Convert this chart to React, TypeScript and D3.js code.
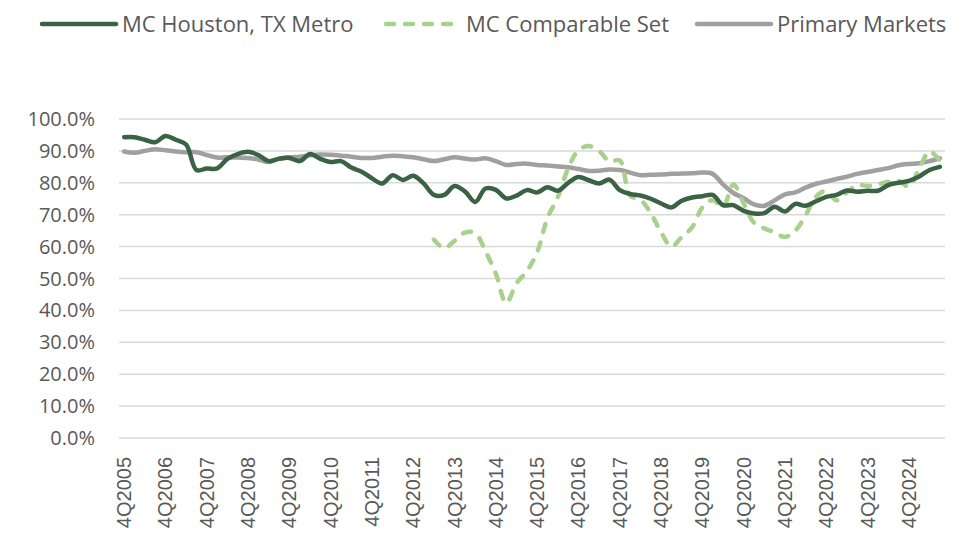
import * as d3 from "d3";

const width = 977;
const height = 537;
const margin = { top: 119, right: 32, bottom: 99, left: 119 };

// quarters from 4Q2005 through 3Q2025
const quarters: string[] = [];
for (let y = 2005; y <= 2025; y++) {
  for (let q = 1; q <= 4; q++) {
    if ((y === 2005 && q < 4) || (y === 2025 && q > 3)) continue;
    quarters.push(`${q}Q${y}`);
  }
}

const houston = [
  94.3, 94.3, 93.5, 92.7, 94.7, 93.5, 92.0, 84.0, 84.5, 84.5,
  87.5, 89.0, 89.7, 88.7, 86.8, 87.5, 87.8, 86.8, 89.0, 87.5,
  86.5, 86.8, 84.8, 83.5, 81.4, 79.8, 82.4, 80.9, 82.2, 79.8,
  76.2, 76.2, 79.0, 77.3, 74.0, 78.2, 77.8, 75.1, 76.0, 77.7,
  77.0, 78.6, 77.5, 80.0, 81.8, 80.8, 79.8, 81.0, 77.7, 76.5,
  76.0, 75.0, 73.5, 72.3, 74.4, 75.4, 75.8, 76.2, 73.0, 73.0,
  71.2, 70.4, 70.5, 72.5, 71.0, 73.4, 72.8, 74.2, 75.6, 76.2,
  77.6, 77.2, 77.5, 77.5, 79.3, 80.0, 80.6, 82.0, 84.0, 85.0,
];

const comparable: (number | null)[] = [
  null, null, null, null, null, null, null, null, null, null,
  null, null, null, null, null, null, null, null, null, null,
  null, null, null, null, null, null, null, null, null, null,
  62.2, 59.5, 61.8, 64.4, 64.2, 58.5, 51.5, 42.3, 48.5, 52.3,
  58.3, 69.0, 75.5, 84.5, 90.2, 91.5, 90.0, 86.7, 87.0, 76.0,
  74.7, 70.5, 64.5, 60.0, 63.0, 66.0, 72.3, 74.6, 72.5, 79.5,
  73.5, 67.5, 65.7, 64.5, 63.0, 65.0, 69.8, 75.6, 77.5, 74.5,
  77.0, 79.3, 79.0, 79.5, 80.3, 80.6, 78.8, 84.5, 89.8, 87.0,
];

const primary = [
  89.8, 89.4, 90.0, 90.5, 90.2, 89.8, 89.6, 89.6, 88.7, 87.9,
  88.0, 87.9, 87.8, 87.3, 86.5, 87.6, 88.0, 88.2, 88.6, 88.9,
  88.8, 88.5, 88.2, 87.8, 87.8, 88.2, 88.5, 88.3, 88.0, 87.4,
  86.8, 87.4, 88.0, 87.6, 87.3, 87.7, 86.8, 85.6, 85.9, 86.0,
  85.6, 85.4, 85.1, 84.9, 84.3, 83.7, 83.8, 84.2, 84.0, 83.2,
  82.4, 82.5, 82.6, 82.8, 82.9, 83.0, 83.2, 82.8, 79.5, 76.8,
  75.2, 73.2, 72.8, 74.5, 76.4, 77.0, 78.5, 79.7, 80.4, 81.2,
  81.9, 82.8, 83.4, 84.0, 84.6, 85.5, 85.9, 86.1, 86.8, 87.7,
];

const yTicks = [0, 10, 20, 30, 40, 50, 60, 70, 80, 90, 100];

const series = [
  { name: "MC Houston, TX Metro", values: houston, color: "#3a6344", dash: null, legendX: 42 },
  { name: "MC Comparable Set", values: comparable, color: "#a9d18e", dash: "8 11", legendX: 386 },
  { name: "Primary Markets", values: primary, color: "#a0a0a0", dash: null, legendX: 697 },
];

const font = "'Open Sans', sans-serif";

export default function App() {
  const x = d3
    .scaleBand<string>()
    .domain(quarters)
    .range([margin.left, width - margin.right]);
  const cx = (i: number) => (x(quarters[i]) ?? 0) + x.bandwidth() / 2;

  const y = d3
    .scaleLinear()
    .domain([0, 100])
    .range([height - margin.bottom, margin.top]);

  const line = d3
    .line<number | null>()
    .defined((d) => d != null)
    .x((_, i) => cx(i))
    .y((d) => y(d as number))
    .curve(d3.curveCatmullRom.alpha(0.5));

  // comparable under, houston on top
  const drawOrder = [series[2], series[1], series[0]];

  return (
    <svg
      width={width}
      height={height}
      style={{ position: "absolute", left: 0, top: 0, background: "#fff" }}
    >
      {/* gridlines */}
      {yTicks.map((t) => (
        <line
          key={t}
          x1={margin.left}
          x2={width - margin.right}
          y1={y(t)}
          y2={y(t)}
          stroke="#d9d9d9"
          strokeWidth={1.5}
        />
      ))}

      {/* y axis labels */}
      {yTicks.map((t) => (
        <text
          key={t}
          x={95}
          y={y(t)}
          dy="0.35em"
          textAnchor="end"
          fill="#595959"
          fontFamily={font}
          fontSize={20}
        >
          {d3.format(".1f")(t)}%
        </text>
      ))}

      {/* x axis labels, every 4th quarter */}
      {quarters.map((q, i) =>
        q.startsWith("4Q") ? (
          <text
            key={q}
            transform={`translate(${cx(i)},457) rotate(-90)`}
            dy="0.35em"
            textAnchor="end"
            fill="#595959"
            fontFamily="'Liberation Sans', Arial, sans-serif"
            fontSize={20}
          >
            {q}
          </text>
        ) : null
      )}

      {/* lines */}
      {drawOrder.map((s) => (
        <path
          key={s.name}
          d={line(s.values) ?? ""}
          fill="none"
          stroke={s.color}
          strokeWidth={4.5}
          strokeDasharray={s.dash ?? undefined}
          strokeLinecap="round"
          strokeLinejoin="round"
        />
      ))}

      {/* legend */}
      {series.map((s) => (
        <g key={s.name} transform={`translate(${s.legendX},24)`}>
          <line
            x1={0}
            x2={74}
            y1={0}
            y2={0}
            stroke={s.color}
            strokeWidth={4.5}
            strokeDasharray={s.dash ?? undefined}
            strokeLinecap="round"
          />
          <text
            x={80}
            y={0}
            dy="0.35em"
            fill="#595959"
            fontFamily={font}
            fontSize={22}
          >
            {s.name}
          </text>
        </g>
      ))}
    </svg>
  );
}
